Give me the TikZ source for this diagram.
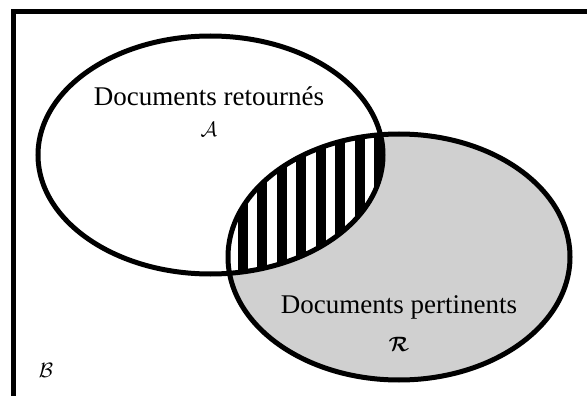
\documentclass[tikz,border=0pt]{standalone}
\usepackage{fontspec}
\setmainfont{Liberation Serif}
\usepackage{amsmath}
\usepackage{bm}
\definecolor{rfill}{HTML}{D0D0D0}
\begin{document}
\begin{tikzpicture}[x=1pt,y=-1pt,
  outline/.style={line width=5pt,draw=black},
  lbl/.style={font=\fontsize{27}{32}\selectfont,inner sep=0pt},
  sym/.style={font=\fontsize{21}{24}\selectfont,inner sep=0pt}]
\useasboundingbox (0,0) rectangle (587,396);
\fill[white] (0,0) rectangle (587,396);
\coordinate (ca) at (210.5,155);
\coordinate (cr) at (399,257);
% relevant set filled grey
\fill[rfill] (cr) ellipse [x radius=171pt, y radius=123pt];
% hatched intersection
\begin{scope}
  \clip (ca) ellipse [x radius=172.5pt, y radius=119pt];
  \clip (cr) ellipse [x radius=171pt, y radius=123pt];
  \fill[white] (200,100) rectangle (400,300);
  \foreach \s in {0,...,8}{
    \fill[black] (218+19.5*\s,100) rectangle (228+19.5*\s,300);
  }
\end{scope}
% outlines
\draw[outline] (ca) ellipse [x radius=172.5pt, y radius=119pt];
\draw[outline] (cr) ellipse [x radius=171pt, y radius=123pt];
% frame (top and left edges only visible)
\draw[line width=5pt,line join=miter] (13.5,400) -- (13.5,11.5) -- (592,11.5);
% labels
\node[lbl] (tA) at (209,96) {Documents retournés};
\node[sym] (sA) at (209,129) {$\mathcal{A}$};
\node[lbl] (tR) at (399,307) {Documents pertinents};
\node[sym] (sR) at (399,344) {$\boldsymbol{\mathcal{R}}$};
\node[sym] (sB) at (46,370) {$\mathcal{B}$};
\end{tikzpicture}
\end{document}
